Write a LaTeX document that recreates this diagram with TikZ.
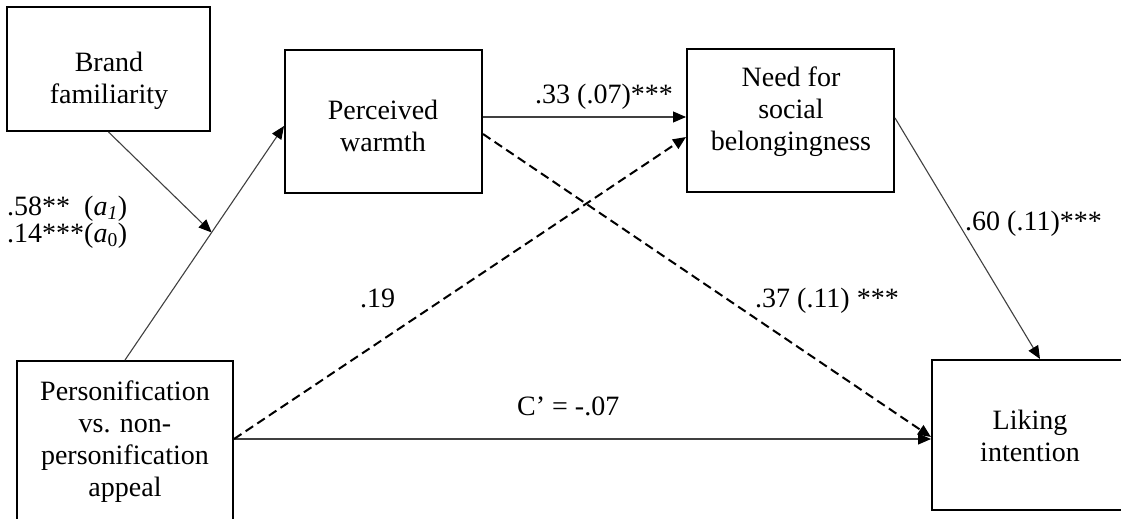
\documentclass[tikz,border=0pt]{standalone}
\usepackage{fontspec}
\setmainfont{Liberation Serif}
\usetikzlibrary{arrows.meta,calc}
\begin{document}
\begin{tikzpicture}[x=1pt,y=-1pt,
  box/.style={draw=black,line width=2pt,rectangle,inner sep=0pt},
  txt/.style={inner sep=0pt,align=center,font=\fontsize{28}{32}\selectfont},
  lbl/.style={inner sep=0pt,font=\fontsize{28}{32}\selectfont},
  conn/.style={draw=black!75,line width=1.1pt,-{Triangle[length=13pt,width=11pt,color=black]}},
  dconn/.style={draw=black,line width=2pt,dash pattern=on 9pt off 5pt,-{Triangle[length=13pt,width=11pt]}}]
\useasboundingbox (0,0) rectangle (1121,519);
\clip (0,0) rectangle (1121,519);
% boxes
\node[box,minimum width=203pt,minimum height=124pt] (bfb) at (108.5,69) {};
\node[box,minimum width=197pt,minimum height=143pt] (pwb) at (383.5,121.5) {};
\node[box,minimum width=207pt,minimum height=143pt] (nbb) at (790.5,120.5) {};
\node[box,minimum width=196pt,minimum height=150pt] (lib) at (1030,435) {};
\node[box,minimum width=216pt,minimum height=170pt] (pab) at (125,446) {};
% box texts
\node[txt] (bft) at (109,81) {Brand\\familiarity};
\node[txt] (pwt) at (383,126) {Perceived\\warmth};
\node[txt] (nbt) at (791,112) {Need for\\social\\belongingness};
\node[txt] (lit) at (1030,436) {Liking\\intention};
\node[txt] (pat) at (125,442) {Personification\\vs. non-\\personification\\appeal};
% coordinates
\coordinate (pwin) at ([yshift=-4.5pt]pwb.west);
\coordinate (m) at ($(pab.north)!0.545!(pwin)$);
\coordinate (pwo1) at ([yshift=4.5pt]pwb.east);
\coordinate (nbin1) at (nbb.west |- pwo1);
\coordinate (pwo2) at ([yshift=-12.5pt]pwb.east);
\coordinate (paout) at ([yshift=7pt]pab.east);
\coordinate (nbin2) at ([yshift=-16.5pt]nbb.west);
\coordinate (nbout) at ([yshift=2.5pt]nbb.east);
\coordinate (litop) at ([xshift=10pt]lib.north);
\coordinate (liin1) at ([yshift=-4pt]lib.west);
\coordinate (liin2) at ([yshift=-2pt]lib.west);
% connectors
\draw[conn] (bfb.south) -- (m);
\draw[conn] (pab.north) -- (pwin);
\draw[conn] (pwo1) -- (nbin1);
\draw[conn] (nbout) -- (litop);
\draw[conn] (paout) -- (liin1);
\draw[dconn] (pwo2) -- (liin2);
\draw[dconn] (paout) -- (nbin2);
% labels
\node[lbl,anchor=base west] (l1) at (7,215) {.58**\ \ (\textit{a}\textsubscript{\textit{1}})};
\node[lbl,anchor=base west] (l2) at (7,242) {.14***(\textit{a}\textsubscript{0})};
\node[lbl,anchor=base west] (l3) at (535,103) {.33 (.07)***};
\node[lbl,anchor=base west] (l4) at (360,307) {.19};
\node[lbl,anchor=base west] (l5) at (755,307) {.37 (.11) ***};
\node[lbl,anchor=base west] (l6) at (965,230) {.60 (.11)***};
\node[lbl,anchor=base west] (l7) at (517,415) {C’ = -.07};
\end{tikzpicture}
\end{document}
